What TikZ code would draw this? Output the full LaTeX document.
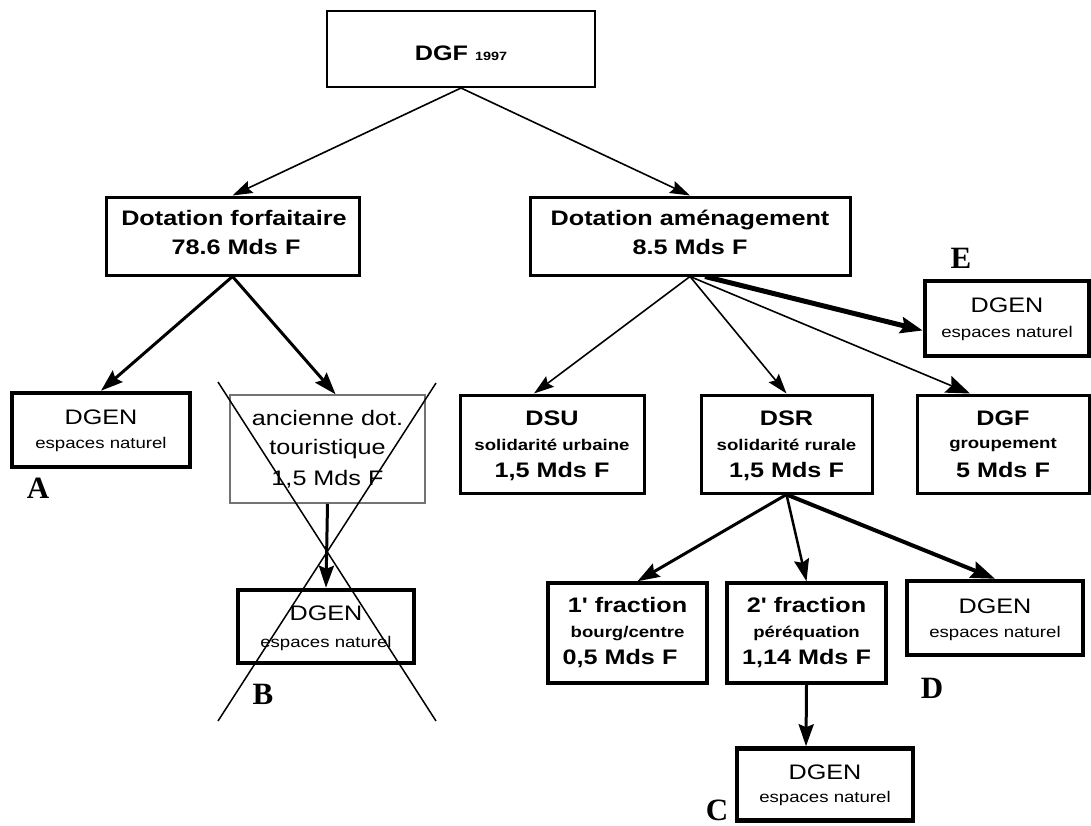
\documentclass[tikz,border=0pt]{standalone}
\usepackage{fontspec}
\newfontfamily\hv{Liberation Sans}[FakeStretch=1.2]
\newfontfamily\tm{Liberation Serif}
\usetikzlibrary{arrows.meta,calc}
\newcommand\FB{\hv\bfseries\fontsize{21}{25}\selectfont}
\newcommand\FS{\hv\bfseries\fontsize{15.5}{18}\selectfont}
\newcommand\FR{\hv\fontsize{21}{25}\selectfont}
\newcommand\FE{\hv\fontsize{15.5}{18}\selectfont}
\newcommand\FL{\tm\bfseries\fontsize{31}{34}\selectfont}
\begin{document}
\begin{tikzpicture}[x=1pt,y=-1pt,
 bx/.style={draw,inner sep=0pt,line width=3pt},
 gbox/.style={draw,inner sep=0pt,line width=4.5pt},
 tl/.style={inner sep=0pt,anchor=base},
 thinarr/.style={line width=1.6pt,-{Stealth[length=20pt,width=13pt,inset=3pt]}},
 thickarr/.style={line width=3pt,-{Stealth[length=22pt,width=15pt,inset=3pt]}},
 lab/.style={inner sep=0pt,anchor=base,font=\FL}
]
\useasboundingbox (0,0) rectangle (1091,825);
% level 0
\node[bx,line width=2pt,minimum width=268pt,minimum height=76pt] (dgf) at (461,49) {};
\node[tl] (dgft) at (461,60) {\FB DGF {\fontsize{12}{14}\selectfont 1997}};
% level 1
\node[bx,minimum width=253pt,minimum height=78pt] (df) at (232.5,236) {};
\node[tl] (df1) at (234,225.5) {\FB Dotation forfaitaire};
\node[tl] (df2) at (236,254.5) {\FB 78.6 Mds F};
\node[bx,minimum width=320pt,minimum height=78pt] (da) at (690,236) {};
\node[tl] (da1) at (690,225.5) {\FB Dotation aménagement};
\node[tl] (da2) at (690,254.5) {\FB 8.5 Mds F};
% left branch
\node[gbox,minimum width=178pt,minimum height=74pt] (ga) at (101,430) {};
\node[tl] (ga1) at (101,424.5) {\FR DGEN};
\node[tl] (ga2) at (101,448) {\FE espaces naturel};
\node[draw=black!55,line width=1.5pt,inner sep=0pt,minimum width=195pt,minimum height=108pt] (anc) at (327.5,449) {};
\node[tl] (anc1) at (327.5,425.5) {\FR ancienne dot.};
\node[tl] (anc2) at (327.5,454) {\FR touristique};
\node[tl] (anc3) at (327.5,485.5) {\FR 1,5 Mds F};
\node[gbox,minimum width=176pt,minimum height=73pt] (gb) at (326,626.5) {};
\node[tl] (gb1) at (326,620.5) {\FR DGEN};
\node[tl] (gb2) at (326,647) {\FE espaces naturel};
% right branch level 2
\node[gbox,minimum width=164pt,minimum height=75pt] (ge) at (1007,318.5) {};
\node[tl] (ge1) at (1007,312.5) {\FR DGEN};
\node[tl] (ge2) at (1007,337) {\FE espaces naturel};
\node[bx,minimum width=184pt,minimum height=98pt] (dsu) at (552,444) {};
\node[tl] (dsu1) at (552,425.5) {\FB DSU};
\node[tl] (dsu2) at (552,450.5) {\FS solidarité urbaine};
\node[tl] (dsu3) at (552,477.5) {\FB 1,5 Mds F};
\node[bx,minimum width=171pt,minimum height=98pt] (dsr) at (786.5,444) {};
\node[tl] (dsr1) at (786.5,425.5) {\FB DSR};
\node[tl] (dsr2) at (786.5,450.5) {\FS solidarité rurale};
\node[tl] (dsr3) at (786.5,477.5) {\FB 1,5 Mds F};
\node[bx,minimum width=172pt,minimum height=98pt] (grp) at (1003,444) {};
\node[tl] (grp1) at (1003,425.5) {\FB DGF};
\node[tl] (grp2) at (1003,448.5) {\FS groupement};
\node[tl] (grp3) at (1003,477.5) {\FB 5 Mds F};
% level 3
\node[bx,line width=3.5pt,minimum width=159pt,minimum height=100pt] (f1) at (627.5,633) {};
\node[tl] (f11) at (627.5,612.5) {\FB 1' fraction};
\node[tl] (f12) at (627.5,637.5) {\FS bourg/centre};
\node[tl] (f13) at (620,664.5) {\FB 0,5 Mds F};
\node[bx,line width=3.5pt,minimum width=159pt,minimum height=100pt] (f2) at (806.5,633) {};
\node[tl] (f21) at (806.5,612.5) {\FB 2' fraction};
\node[tl] (f22) at (806.5,637.5) {\FS péréquation};
\node[tl] (f23) at (806.5,664.5) {\FB 1,14 Mds F};
\node[gbox,minimum width=176pt,minimum height=74pt] (gd) at (995,618) {};
\node[tl] (gd1) at (995,613.5) {\FR DGEN};
\node[tl] (gd2) at (995,637) {\FE espaces naturel};
\node[gbox,minimum width=176pt,minimum height=72pt] (gc) at (825,784.5) {};
\node[tl] (gc1) at (825,779.5) {\FR DGEN};
\node[tl] (gc2) at (825,802) {\FE espaces naturel};
% labels
\node[lab] (la) at (38,498) {A};
\node[lab] (lb) at (263,704) {B};
\node[lab] (lc) at (717,820) {C};
\node[lab] (ld) at (932,698) {D};
\node[lab] (le) at (961,268) {E};
% arrows
\draw[thinarr] (dgf.south) -- (df.north);
\draw[thinarr] (dgf.south) -- (da.north);
\draw[thickarr] (df.south) -- (ga.north);
\draw[thickarr] (df.south) -- ($(anc.north)+(8,0)$);
\draw[thickarr] (anc.south) -- (gb.north);
\draw[thinarr] (da.south) -- ($(dsu.north)+(-18,0)$);
\draw[thinarr] (da.south) -- (dsr.north);
\draw[line width=1.6pt,-{Stealth[length=24pt,width=18pt,inset=4pt]}] (da.south) -- ($(grp.north)+(-33,0)$);
\draw[line width=5pt,-{Stealth[length=22pt,width=16pt,inset=3pt]}] ($(da.south)+(15,0)$) -- ($(ge.west)+(0,12)$);
\draw[thickarr] (dsr.south) -- ($(f1.north)+(10,0)$);
\draw[line width=2.5pt,-{Stealth[length=22pt,width=15pt,inset=3pt]}] (dsr.south) -- (f2.north);
\draw[line width=4pt,-{Stealth[length=24pt,width=17pt,inset=3pt]}] (dsr.south) -- (gd.north);
\draw[thickarr] (f2.south) -- ($(gc.north)+(-19,0)$);
% cross
\coordinate (x1) at (218,382);
\coordinate (x2) at (436,721);
\coordinate (x3) at (436,383);
\coordinate (x4) at (218,721);
\draw[line width=1.5pt] (x1) -- (x2);
\draw[line width=1.5pt] (x3) -- (x4);
\end{tikzpicture}
\end{document}
